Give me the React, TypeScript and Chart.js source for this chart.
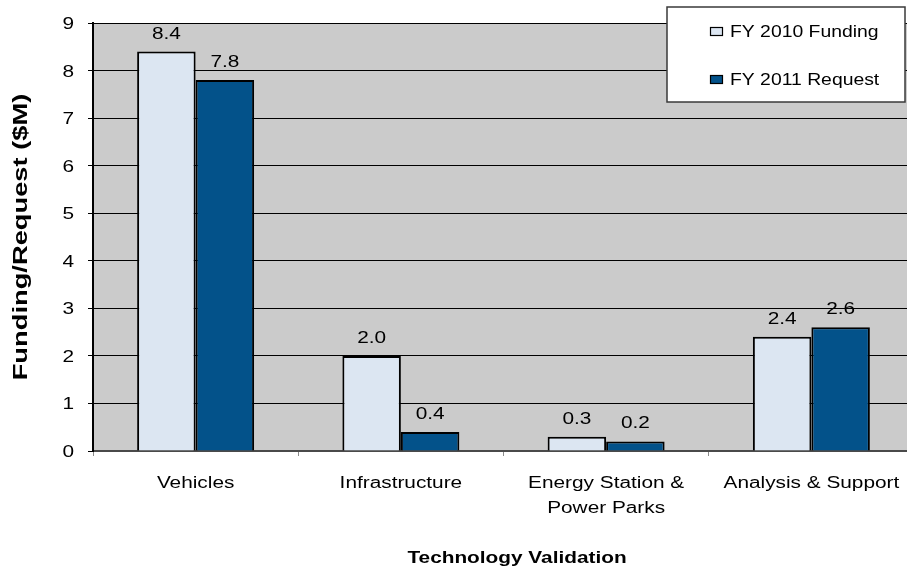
import React, { useEffect, useRef } from "react";
import { Chart, registerables } from "chart.js";

Chart.register(...registerables);

const categories: string[][] = [
  ["Vehicles"],
  ["Infrastructure"],
  ["Energy Station &", "Power Parks"],
  ["Analysis & Support"],
];
const fy2010Funding = [8.4, 2.0, 0.3, 2.4];
const fy2011Request = [7.8, 0.4, 0.2, 2.6];
const seriesNames = ["FY 2010 Funding", "FY 2011 Request"];
const yTicks = [0, 1, 2, 3, 4, 5, 6, 7, 8, 9];
const xTitle = "Technology Validation";
const yTitle = "Funding/Request ($M)";

const LIGHT = "#dce6f2";
const DARK = "#03528a";
const FONT = "Arial, 'Liberation Sans', sans-serif";
const SX = 1.3; // the source text is set wide
const SX_LEGEND = 1.21;

function wideText(ctx: CanvasRenderingContext2D, text: string, x: number, y: number, align: CanvasTextAlign, sx: number = SX) {
  ctx.save();
  ctx.translate(x, y);
  ctx.scale(sx, 1);
  ctx.textAlign = align;
  ctx.textBaseline = "alphabetic";
  ctx.fillText(text, 0, 0);
  ctx.restore();
}

const decorPlugin = {
  id: "decor",
  beforeDraw(chart: any) {
    const { ctx, chartArea } = chart;
    ctx.save();
    ctx.fillStyle = "#cbcbcb";
    ctx.fillRect(chartArea.left, chartArea.top, chartArea.right - chartArea.left, chartArea.bottom - chartArea.top);
    ctx.restore();
  },
  afterDraw(chart: any) {
    const { ctx, chartArea } = chart;
    const xs = chart.scales.x;
    const ys = chart.scales.y;
    ctx.save();
    ctx.fillStyle = "#000";
    ctx.font = `16px ${FONT}`;
    // y tick labels
    ys.ticks.forEach((t: any) => {
      wideText(ctx, String(t.value), 74, ys.getPixelForValue(t.value) + 6, "right");
    });
    // x tick labels
    categories.forEach((lines, i) => {
      const x = xs.getPixelForValue(i);
      lines.forEach((ln, j) => {
        wideText(ctx, ln, x, 488 + j * 25, "center");
      });
    });
    // value labels
    chart.data.datasets.forEach((ds: any, di: number) => {
      const meta = chart.getDatasetMeta(di);
      meta.data.forEach((bar: any, i: number) => {
        const v = ds.data[i];
        wideText(ctx, v.toFixed(1), bar.x, bar.y - 13, "center");
      });
    });
    // axis titles
    ctx.font = `bold 16px ${FONT}`;
    wideText(ctx, xTitle, 517, 563, "center");
    ctx.save();
    ctx.font = `bold 21px ${FONT}`;
    ctx.translate(26.5, (chartArea.top + chartArea.bottom) / 2);
    ctx.rotate(-Math.PI / 2);
    ctx.scale(SX, 1);
    ctx.textAlign = "center";
    ctx.textBaseline = "alphabetic";
    ctx.fillText(yTitle, 0, 0);
    ctx.restore();
    // legend
    const lx = 667, ly = 7, lw = 238, lh = 95;
    ctx.fillStyle = "#ffffff";
    ctx.fillRect(lx, ly, lw, lh);
    ctx.strokeStyle = "#3a3a3a";
    ctx.lineWidth = 1.5;
    ctx.strokeRect(lx, ly, lw, lh);
    const items = [
      { name: seriesNames[0], color: LIGHT, y: 31 },
      { name: seriesNames[1], color: DARK, y: 79 },
    ];
    ctx.font = `16px ${FONT}`;
    items.forEach((it) => {
      ctx.fillStyle = it.color;
      ctx.fillRect(710, it.y - 4, 13, 9);
      ctx.strokeStyle = "#000";
      ctx.lineWidth = 1.2;
      ctx.strokeRect(710.5, it.y - 3.5, 12, 8);
      ctx.fillStyle = "#000";
      wideText(ctx, it.name, 730, it.y + 5.5, "left", SX_LEGEND);
    });
    ctx.restore();
  },
};

export default function App() {
  const ref = useRef<HTMLCanvasElement | null>(null);
  useEffect(() => {
    if (!ref.current) return;
    const chart = new Chart(ref.current, {
      type: "bar",
      data: {
        labels: categories.map((c) => c.join(" ")),
        datasets: [
          {
            label: seriesNames[0],
            data: fy2010Funding,
            backgroundColor: LIGHT,
            borderColor: "#000",
            borderWidth: 2,
            categoryPercentage: 0.57,
            barPercentage: 1,
          },
          {
            label: seriesNames[1],
            data: fy2011Request,
            backgroundColor: DARK,
            borderColor: "#000",
            borderWidth: 2,
            categoryPercentage: 0.57,
            barPercentage: 1,
          },
        ],
      },
      options: {
        responsive: false,
        animation: false,
        devicePixelRatio: 1,
        layout: { padding: { top: 23, left: 0, right: 0, bottom: 0 } },
        plugins: {
          legend: { display: false },
          tooltip: { enabled: false },
          title: { display: false },
        },
        scales: {
          x: {
            grid: {
              drawOnChartArea: false,
              drawTicks: true,
              tickLength: 5,
              color: "#8a8a8a",
              offset: true,
            },
            border: { color: "#4a4a4a", width: 2 },
            ticks: {
              color: "rgba(0,0,0,0)",
              font: { family: FONT, size: 16 },
              maxRotation: 0,
              autoSkip: false,
            },
            afterFit: (scale: any) => {
              scale.height = 122;
            },
          },
          y: {
            min: 0,
            max: 9,
            afterBuildTicks: (scale: any) => {
              scale.ticks = yTicks.map((v) => ({ value: v }));
            },
            grid: {
              color: "#000",
              lineWidth: 1,
              drawTicks: true,
              tickLength: 5,
            },
            border: { color: "#000", width: 2 },
            ticks: {
              color: "rgba(0,0,0,0)",
              font: { family: FONT, size: 16 },
            },
            afterFit: (scale: any) => {
              scale.width = 93;
            },
          },
        },
      },
      plugins: [decorPlugin],
    });
    return () => chart.destroy();
  }, []);
  return (
    <div style={{ position: "fixed", left: 0, top: 0, width: 907, height: 573, overflow: "hidden", background: "#fff" }}>
      <canvas ref={ref} width={914} height={573} style={{ display: "block", width: 914, height: 573 }} />
    </div>
  );
}
